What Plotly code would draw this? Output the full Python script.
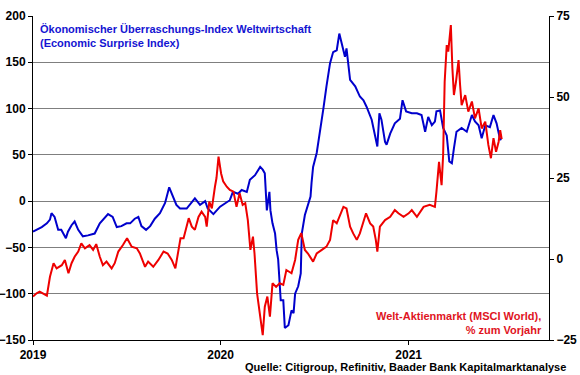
import plotly.graph_objects as go

# Economic Surprise Index (left axis)
esi_dates = [
    "2019-01-01", "2019-01-08", "2019-01-18", "2019-01-28", "2019-02-03", "2019-02-06", "2019-02-12",
    "2019-02-19", "2019-02-25", "2019-03-06", "2019-03-10", "2019-03-17", "2019-03-23", "2019-03-30",
    "2019-04-08", "2019-04-18", "2019-05-01", "2019-05-11", "2019-05-21", "2019-05-27", "2019-06-05",
    "2019-06-13", "2019-06-22", "2019-07-02", "2019-07-09", "2019-07-18", "2019-07-25", "2019-07-31",
    "2019-08-09", "2019-08-17", "2019-08-26", "2019-09-05", "2019-09-15", "2019-09-23", "2019-10-07",
    "2019-10-14", "2019-10-27", "2019-11-12", "2019-11-22", "2019-12-02", "2019-12-07", "2019-12-18",
    "2019-12-31", "2020-01-19", "2020-01-25", "2020-02-04", "2020-02-11", "2020-02-21", "2020-02-27",
    "2020-03-08", "2020-03-18", "2020-03-23", "2020-03-27", "2020-03-31", "2020-04-05", "2020-04-07",
    "2020-04-11", "2020-04-16", "2020-04-19", "2020-04-22", "2020-04-27", "2020-05-02", "2020-05-05",
    "2020-05-12", "2020-05-18", "2020-05-22", "2020-05-25", "2020-05-31", "2020-06-05", "2020-06-07",
    "2020-06-13", "2020-06-19", "2020-06-24", "2020-06-26", "2020-06-29", "2020-07-06", "2020-07-12",
    "2020-07-19", "2020-07-25", "2020-08-01", "2020-08-07", "2020-08-14", "2020-08-19", "2020-08-24",
    "2020-08-30", "2020-09-02", "2020-09-09", "2020-09-19", "2020-09-28", "2020-10-05", "2020-10-11",
    "2020-10-21", "2020-10-27", "2020-11-01", "2020-11-05", "2020-11-09", "2020-11-16", "2020-11-19",
    "2020-11-26", "2020-12-05", "2020-12-15", "2020-12-20", "2020-12-27", "2021-01-07", "2021-01-17",
    "2021-01-26", "2021-02-02", "2021-02-08", "2021-02-15", "2021-02-21", "2021-02-24", "2021-03-03",
    "2021-03-09", "2021-03-16", "2021-03-21", "2021-03-26", "2021-03-30", "2021-04-04", "2021-04-14",
    "2021-04-24", "2021-05-04", "2021-05-10", "2021-05-17", "2021-05-23", "2021-05-30", "2021-06-08",
    "2021-06-15", "2021-06-21", "2021-06-28", "2021-06-30",
]
esi_values = [
    -33, -31, -28, -24, -20, -13, -17,
    -31, -31, -40, -33, -26, -22, -31,
    -38, -37, -35, -24, -17, -14, -17,
    -28, -27, -24, -24, -19, -17, -27,
    -31, -27, -19, -13, -2, 15, -4,
    -8, -8, 3, -4, 0, -8, -14,
    -6, 1, 10, 8, 12, 10, 23,
    28, 37, 34, 30, -10, 10, -10,
    -24, -35, -53, -63, -107, -107, -137,
    -134, -118, -121, -100, -92, -78, -35,
    -15, -5, 5, 20, 37, 52, 73,
    100, 124, 149, 161, 163, 181, 170,
    156, 165, 131, 124, 113, 109, 102,
    88, 70, 59, 95, 88, 64, 61,
    73, 84, 89, 109, 97, 95, 95,
    93, 75, 91, 82, 86, 97, 98,
    79, 71, 43, 41, 57, 75, 79,
    75, 93, 86, 82, 68, 82, 80,
    93, 84, 66, 68,
]

# MSCI World, % y/y (right axis)
msci_dates = [
    "2019-01-01", "2019-01-08", "2019-01-14", "2019-01-21", "2019-01-28", "2019-02-03", "2019-02-10",
    "2019-02-16", "2019-02-26", "2019-03-04", "2019-03-11", "2019-03-17", "2019-03-23", "2019-03-30",
    "2019-04-05", "2019-04-12", "2019-04-21", "2019-04-28", "2019-05-04", "2019-05-11", "2019-05-17",
    "2019-05-24", "2019-06-03", "2019-06-09", "2019-06-16", "2019-06-25", "2019-07-03", "2019-07-12",
    "2019-07-22", "2019-07-28", "2019-08-07", "2019-08-13", "2019-08-23", "2019-09-02", "2019-09-12",
    "2019-09-20", "2019-09-28", "2019-10-05", "2019-10-08", "2019-10-15", "2019-10-21", "2019-10-31",
    "2019-11-06", "2019-11-12", "2019-11-19", "2019-11-25", "2019-12-02", "2019-12-05", "2019-12-10",
    "2019-12-15", "2019-12-21", "2019-12-24", "2019-12-28", "2020-01-02", "2020-01-06", "2020-01-13",
    "2020-01-19", "2020-01-26", "2020-02-01", "2020-02-07", "2020-02-13", "2020-02-18", "2020-02-23",
    "2020-02-28", "2020-03-04", "2020-03-07", "2020-03-12", "2020-03-17", "2020-03-23", "2020-03-27",
    "2020-04-01", "2020-04-06", "2020-04-11", "2020-04-18", "2020-04-25", "2020-05-02", "2020-05-08",
    "2020-05-18", "2020-05-25", "2020-05-31", "2020-06-04", "2020-06-06", "2020-06-13", "2020-06-19",
    "2020-06-29", "2020-07-06", "2020-07-16", "2020-07-25", "2020-08-01", "2020-08-07", "2020-08-14",
    "2020-08-20", "2020-08-27", "2020-09-02", "2020-09-09", "2020-09-15", "2020-09-22", "2020-09-28",
    "2020-10-05", "2020-10-10", "2020-10-18", "2020-10-24", "2020-10-29", "2020-11-01", "2020-11-06",
    "2020-11-16", "2020-11-26", "2020-12-05", "2020-12-12", "2020-12-22", "2021-01-01", "2021-01-07",
    "2021-01-17", "2021-01-30", "2021-02-11", "2021-02-21", "2021-02-24", "2021-03-01", "2021-03-06",
    "2021-03-09", "2021-03-12", "2021-03-16", "2021-03-19", "2021-03-24", "2021-03-27", "2021-03-30",
    "2021-04-03", "2021-04-08", "2021-04-11", "2021-04-14", "2021-04-21", "2021-04-27", "2021-05-04",
    "2021-05-10", "2021-05-17", "2021-05-23", "2021-05-30", "2021-06-05", "2021-06-10", "2021-06-15",
    "2021-06-20", "2021-06-25", "2021-06-28", "2021-07-01",
]
msci_values = [
    -11.6, -10.6, -10.1, -10.6, -11.3, -5.5, -1.3,
    -2.9, -1.9, -0.3, -4.4, -1.3, 0.7, 2.3,
    4.8, 3.3, 4.3, 2.8, 4.6, 0.7, -1.9,
    -0.8, -2.9, -1.3, 2.3, 4.3, 6.4, 3.8,
    3.3, 1.7, -2.4, -0.8, -2.4, -0.3, 2.3,
    1.7, -0.3, -2.9, -0.3, 6.4, 6.4, 12.6,
    10.0, 9.0, 13.0, 14.6, 13.0, 10.0, 17.7,
    15.6, 22.3, 25.0, 31.6, 26.4, 24.0, 22.3,
    21.3, 20.8, 16.1, 20.3, 16.7, 17.2, 12.0,
    2.8, 6.9, 1.7, -10.6, -16.8, -23.5, -14.7,
    -11.6, -17.8, -7.5, -8.6, -7.5, -8.0, -3.4,
    -4.4, -0.3, 5.9, 7.0, 8.0, 2.8, 1.7,
    -0.8, 1.7, 2.8, 3.8, 5.9, 12.0, 11.0,
    13.6, 16.1, 15.6, 10.0, 7.9, 5.9, 7.9,
    12.0, 14.1, 11.0, 10.0, 5.9, 2.3, 10.0,
    12.0, 13.0, 15.1, 14.1, 13.0, 14.1, 15.1,
    13.0, 16.1, 16.7, 16.1, 20.8, 30.0, 22.8,
    32.1, 54.7, 66.0, 64.0, 72.2, 58.9, 50.6,
    54.7, 61.4, 53.7, 47.5, 50.6, 45.5, 48.6,
    43.4, 46.5, 40.3, 42.4, 35.2, 31.1, 37.3,
    33.1, 36.2, 39.8, 37.0,
]

year_ticks = ["2019-01-01", "2020-01-01", "2021-01-01"]
year_labels = ["2019", "2020", "2021"]
left_ticks = [-150, -100, -50, 0, 50, 100, 150, 200]
right_ticks = [-25, 0, 25, 50, 75]

FONT = "Liberation Sans, Arial, sans-serif"
BLUE = "#0000CC"
RED = "#EE0000"

fig = go.Figure()
fig.add_trace(go.Scatter(x=msci_dates, y=msci_values, mode="lines", yaxis="y2",
                         line=dict(color=RED, width=2), showlegend=False))
fig.add_trace(go.Scatter(x=esi_dates, y=esi_values, mode="lines", yaxis="y",
                         line=dict(color=BLUE, width=2), showlegend=False))

tickfont = dict(family=FONT, size=12, color="black", weight="bold")

fig.update_layout(
    width=580, height=375,
    margin=dict(l=33, r=31, t=16, b=35),
    paper_bgcolor="white", plot_bgcolor="white",
    xaxis=dict(range=["2019-01-01", "2021-10-01"], tickvals=year_ticks, ticktext=year_labels,
               showgrid=False, showline=True, linecolor="black", linewidth=1, automargin=False,
               ticks="outside", ticklen=4, tickcolor="black", tickfont=tickfont, zeroline=False),
    yaxis=dict(range=[-150, 200], tickvals=left_ticks, showgrid=True, gridcolor="#7f7f7f",
               gridwidth=1, showline=True, linecolor="black", linewidth=1, ticks="outside",
               automargin=False,
               ticklen=4, tickcolor="black", tickfont=tickfont, zeroline=False),
    yaxis2=dict(range=[-25, 75], tickvals=right_ticks, overlaying="y", side="right",
                showgrid=False, showline=True, linecolor="black", linewidth=1, ticks="outside",
                automargin=False,
                ticklen=4, tickcolor="black", tickfont=tickfont, zeroline=False),
    annotations=[
        dict(text="<b>Ökonomischer Überraschungs-Index Weltwirtschaft<br>(Economic Surprise Index)</b>",
             xref="paper", yref="paper", x=0.01, y=0.985, xanchor="left", yanchor="top",
             align="left", showarrow=False,
             font=dict(family=FONT, size=11, color="#1414D2")),
        dict(text="<b>Welt-Aktienmarkt (MSCI World),<br>% zum Vorjahr</b>",
             xref="paper", yref="paper", x=0.99, y=0.005, xanchor="right", yanchor="bottom",
             align="right", showarrow=False,
             font=dict(family=FONT, size=11, color="#E0141E")),
        dict(text="<b>Quelle: Citigroup, Refinitiv, Baader Bank Kapitalmarktanalyse</b>",
             xref="paper", yref="paper", x=1.037, y=-0.058, xanchor="right", yanchor="top",
             align="right", showarrow=False,
             font=dict(family=FONT, size=11, color="black")),
    ],
)

fig.write_html("out.html", config={"displayModeBar": False},
               post_script="document.body.style.margin='0px';document.body.style.overflow='hidden';")
